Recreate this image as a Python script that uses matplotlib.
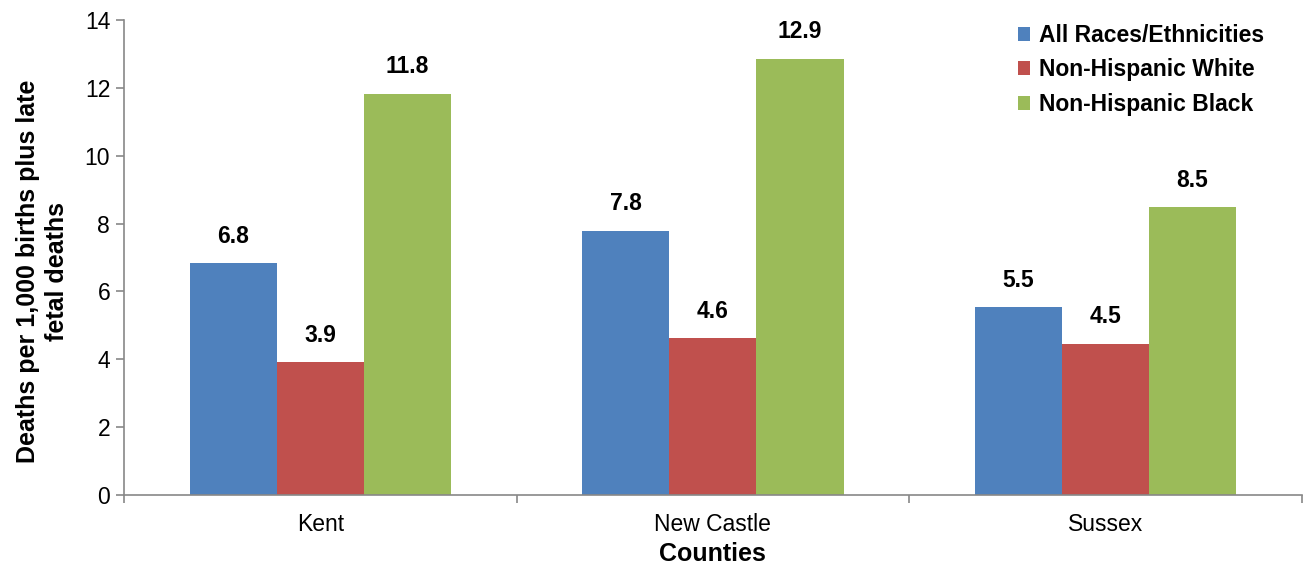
import matplotlib
matplotlib.use("Agg")
import matplotlib.pyplot as plt
import numpy as np

plt.rcParams['font.family'] = ['Liberation Sans', 'DejaVu Sans']

counties = ["Kent", "New Castle", "Sussex"]
series_names = ["All Races/Ethnicities", "Non-Hispanic White", "Non-Hispanic Black"]
all_races = [6.84, 7.79, 5.54]
nh_white = [3.92, 4.62, 4.46]
nh_black = [11.83, 12.86, 8.49]
colors = ["#4F81BD", "#C0504D", "#9BBB59"]

fig = plt.figure(figsize=(13.07, 5.69), dpi=100)
ax = fig.add_axes([0.0949, 0.130, 0.901, 0.835])

x = np.arange(len(counties))
w = 0.222
for i, (vals, name, c) in enumerate(zip([all_races, nh_white, nh_black], series_names, colors)):
    pos = x + (i - 1) * w
    ax.bar(pos, vals, width=w, color=c, label=name, zorder=2)
    for px, v in zip(pos, vals):
        ax.text(px, v + 0.45, f"{v:.1f}", ha="center", va="bottom", fontsize=16.5, fontweight="bold")

ax.set_xlim(-0.5, 2.5)
ax.set_ylim(0, 14)
ax.set_yticks(np.arange(0, 15, 2))
ax.set_xticks(x)
ax.set_xticklabels(counties)
ax.set_xticks([-0.5, 0.5, 1.5, 2.5], minor=True)
ax.tick_params(axis='x', which='major', length=0, labelsize=16.5, pad=13)
ax.tick_params(axis='x', which='minor', length=6, color='#888888', width=1.2)
ax.tick_params(axis='y', length=6, color='#888888', width=1.2, labelsize=16.5, pad=4)
for s in ['top', 'right']:
    ax.spines[s].set_visible(False)
for s in ['left', 'bottom']:
    ax.spines[s].set_color('#888888')
    ax.spines[s].set_linewidth(1.2)

ax.set_xlabel("Counties", fontsize=18, fontweight="bold", labelpad=4)
ax.set_ylabel("Deaths per 1,000 births plus late\nfetal deaths", fontsize=18, fontweight="bold", labelpad=11, linespacing=1.3)
ax.yaxis.label.set_y(0.47)

leg = ax.legend(loc="upper right", bbox_to_anchor=(0.986, 1.035), frameon=False, prop={'size': 16.5, 'weight': 'bold'},
                handlelength=0.55, handleheight=0.55, handletextpad=0.4, labelspacing=0.5)

fig.savefig("out.png", dpi=100)
